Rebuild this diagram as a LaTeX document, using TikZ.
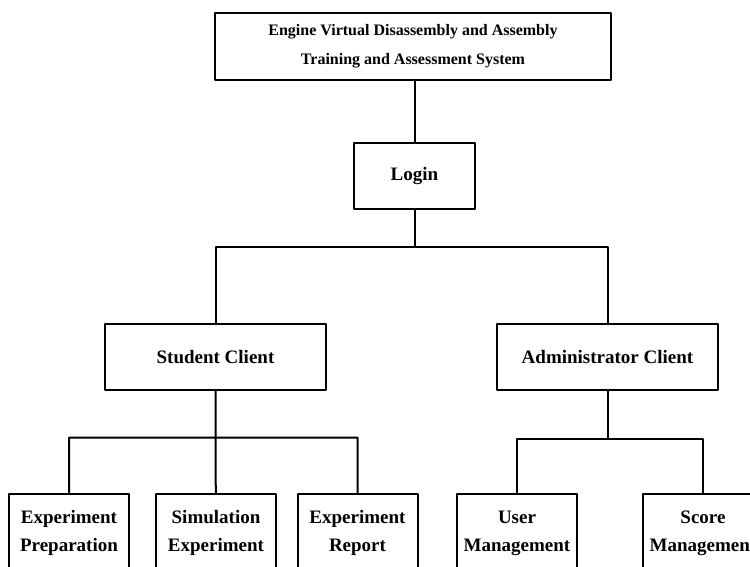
\documentclass[tikz,border=0pt]{standalone}
\usepackage{fontspec}
\setmainfont{Liberation Serif}
\begin{document}
\begin{tikzpicture}[x=1pt, y=-1pt, line width=2pt, line join=round,
		font=\bfseries\fontsize{19}{28}\selectfont,
		box/.style={draw, align=center, inner sep=0pt, minimum height=66},
		leaf/.style={box, minimum width=120, minimum height=78}]
	\useasboundingbox (0,0) rectangle (750,566);
	\clip (0,0) rectangle (750,566);
	\path
	(413,46.5) coordinate (S)
	(414.5,176) coordinate (L)
	(215.5,357) coordinate (C1)
	(607.5,357) coordinate (C2)
	(414.5,247) coordinate (J1)
	(215.5,437.5) coordinate (J2)
	(607.5,438.5) coordinate (J3)
	;

	\node[box, minimum width=396, minimum height=67, font=\bfseries\fontsize{16}{29}\selectfont] (sys) at (S)
		{Engine Virtual Disassembly and Assembly\\Training and Assessment System};
	\node[box, minimum width=121] (login) at (L) {Login};
	\node[box, minimum width=221] (stu) at (C1) {Student Client};
	\node[box, minimum width=221] (adm) at (C2) {Administrator Client};

	\foreach \n/\x/\t in {prep/69/Experiment\\Preparation, sim/216/Simulation\\Experiment, rep/357.5/Experiment\\Report, user/517/User\\Management, score/703/Score\\Management}
	\node[leaf] (\n) at (\x,533) {\t};

	\draw (login) -- (login |- sys.south);
	\draw (login) -- (J1) (J1) -| (stu) (J1) -| (adm);
	\draw (stu) -- (J2) (J2) -| (prep) (J2) -| (rep) (J2) -- (sim);
	\draw (adm) -- (J3) (J3) -| (user) (J3) -| (score);
\end{tikzpicture}
\end{document}
